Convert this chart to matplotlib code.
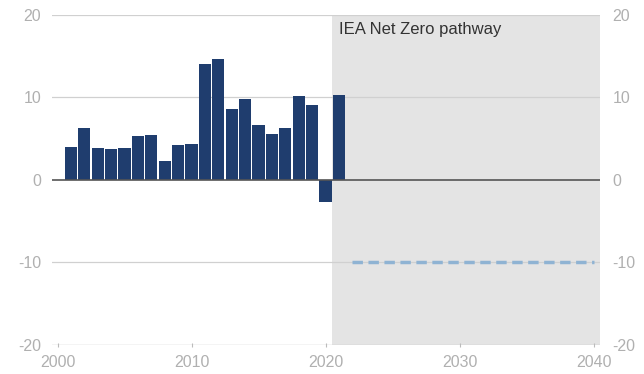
import matplotlib
matplotlib.use("Agg")
import matplotlib.pyplot as plt

plt.rcParams["axes.unicode_minus"] = False

years = list(range(2001, 2022))
values = [4.0, 6.3, 3.9, 3.7, 3.9, 5.3, 5.5, 2.3, 4.2, 4.4, 14.0, 14.7, 8.6, 9.8, 6.6,
          5.6, 6.3, 10.2, 9.1, -2.7, 10.3]
nz_years = [2022, 2040]
nz_values = [-10, -10]
yticks = [-20, -10, 0, 10, 20]
xticks = [2000, 2010, 2020, 2030, 2040]
shade_span = [2020.5, 2040.5]
label = "IEA Net Zero pathway"

fig = plt.figure(figsize=(6.44, 3.74), dpi=100)
ax = fig.add_axes([0.081, 0.078, 0.851, 0.882])

ax.axvspan(shade_span[0], shade_span[1], color="#e4e4e4", zorder=0, lw=0)
for y in yticks:
    if y != 0 and y != -20:
        ax.axhline(y, color="#d0d0d0", lw=0.9, zorder=1)
ax.axhline(-20, color="#c8c8c8", lw=1.0, zorder=1)
ax.bar(years, values, width=0.9, color="#1f3d6e", zorder=2)
ax.axhline(0, color="#555555", lw=1.2, zorder=3)
ax.plot(nz_years, nz_values, color="#8fb3d3", lw=2.5, ls=(0, (3, 1.6)), zorder=3)

ax.text(2021.0, 18.2, label, fontsize=12, color="#333333", va="center", ha="left",
        family="Liberation Sans")

ax.set_xlim(1999.6, 2040.5)
ax.set_ylim(-20, 20)
ax.set_yticks(yticks)
ax.set_xticks(xticks)
for s in ax.spines.values():
    s.set_visible(False)
ax.tick_params(axis="y", length=0, labelsize=11.5, labelcolor="#b0b0b0", pad=8)
ax.tick_params(axis="x", length=3, color="#bbbbbb", direction="inout", labelsize=11.5,
               labelcolor="#b0b0b0", pad=6)
ax2 = ax.twinx()
ax2.set_ylim(-20, 20)
ax2.set_yticks(yticks)
for s in ax2.spines.values():
    s.set_visible(False)
ax2.tick_params(axis="y", length=0, labelsize=11.5, labelcolor="#b0b0b0", pad=9)
for a in (ax, ax2):
    for t in a.get_xticklabels() + a.get_yticklabels():
        t.set_family("Liberation Sans")

fig.savefig("out.png", dpi=100)
